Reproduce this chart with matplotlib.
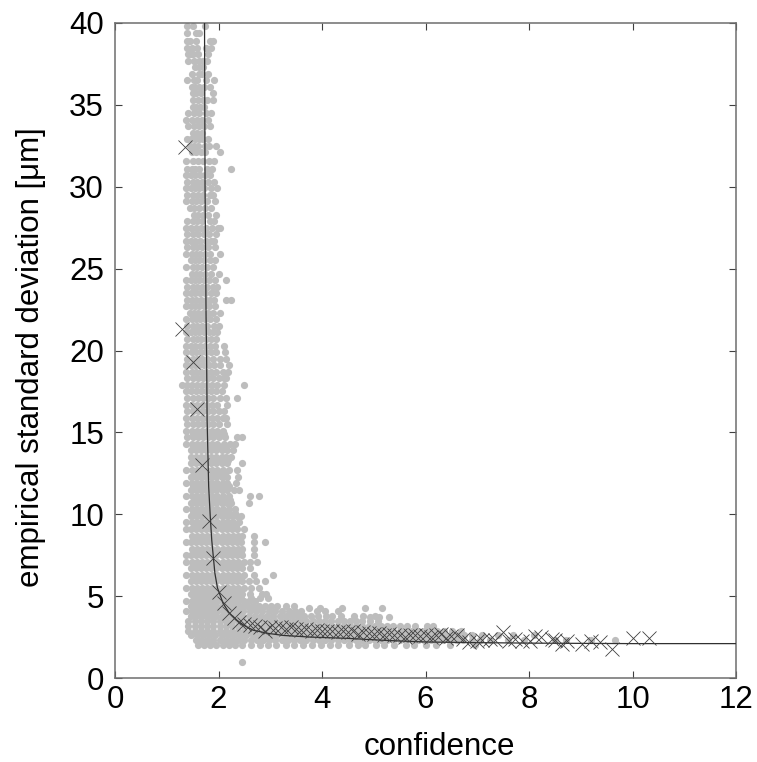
"""
Empirical standard deviation vs. confidence: gray cloud, binned crosses, fitted curve.
Saves to out.png
"""
import matplotlib
matplotlib.use("Agg")
import matplotlib.pyplot as plt
import numpy as np

# ── data ──────────────────────────────────────────────────────────────────────
# gray cloud: one y per row, several x on it
CLOUD_Y = [
    39.8, 39.4, 38.9, 38.5, 38.1, 37.7, 37.3, 36.9, 36.5, 36.1, 35.7, 35.3, 34.9,
    34.5, 34.1, 33.7, 33.3, 32.9, 32.5, 32.1, 31.6, 31.1, 30.7, 30.3, 29.9, 29.5,
    29.1, 28.7, 28.3, 27.9, 27.5, 27.1, 26.7, 26.3, 25.9, 25.5, 25.1, 24.7, 24.3,
    23.9, 23.5, 23.1, 22.7, 22.3, 21.9, 21.5, 21.1, 20.7, 20.3, 19.9, 19.5, 19.1,
    18.7, 18.3, 17.9, 17.5, 17.1, 16.7, 16.3, 15.9, 15.5, 15.1, 14.7, 14.3, 13.9,
    13.5, 13.1, 12.7, 12.3, 11.9, 11.5, 11.1, 10.7, 10.3, 9.9, 9.5, 9.1, 8.7, 8.3,
    7.9, 7.5, 7.1, 6.7, 6.3, 5.9, 5.5, 5.1, 4.7, 4.4, 4.1, 3.8, 3.5, 3.2, 2.9,
    2.6, 2.3, 2.0, 1.0,
    # in-between rows of the solid part of the cloud
    14.9, 14.1, 13.3, 12.5, 11.7, 10.9, 10.1, 9.3, 8.5, 7.7, 6.9, 6.1, 5.3, 4.9,
    # loose points above the band
    4.25, 3.75,
]
CLOUD_X = [
    [1.40, 1.50, 1.73],
    [1.40, 1.57, 1.62],
    [1.39, 1.44, 1.56, 1.84, 1.90],
    [1.40, 1.49, 1.59, 1.75, 1.86],
    [1.42, 1.46, 1.50, 1.60, 1.80],
    [1.42, 1.52, 1.63, 1.70, 1.78],
    [1.55, 1.63, 1.70],
    [1.49, 1.62, 1.68, 1.80],
    [1.39, 1.52, 1.58, 1.76, 1.92],
    [1.48, 1.55, 1.63, 1.72, 1.83],
    [1.50, 1.57, 1.66, 1.90],
    [1.51, 1.60, 1.70, 1.78, 1.90],
    [1.50, 1.56, 1.64, 1.72],
    [1.41, 1.52, 1.62, 1.76, 1.86],
    [1.38, 1.48, 1.58, 1.68, 1.80],
    [1.42, 1.53, 1.63, 1.72, 1.83],
    [1.50, 1.58, 1.68],
    [1.39, 1.46, 1.55, 1.62, 1.70, 1.80],
    [1.45, 1.52, 1.60, 1.74, 1.82, 1.96],
    [1.48, 1.56, 1.66, 1.74, 2.03],
    [1.38, 1.50, 1.60, 1.70, 1.82, 1.92],
    [1.40, 1.48, 1.54, 1.62, 1.78, 1.88, 2.24],
    [1.38, 1.46, 1.55, 1.64, 1.74, 1.84],
    [1.39, 1.50, 1.58, 1.68, 1.80, 1.92],
    [1.38, 1.46, 1.54, 1.62, 1.72, 1.86, 1.98],
    [1.40, 1.50, 1.60, 1.70, 1.83, 1.90],
    [1.38, 1.48, 1.56, 1.66, 1.78, 1.94],
    [1.44, 1.52, 1.62, 1.74, 1.86],
    [1.52, 1.60, 1.70, 1.80, 1.96],
    [1.39, 1.50, 1.58, 1.68, 1.84, 1.92],
    [1.38, 1.47, 1.56, 1.66, 1.76, 1.88, 1.99, 2.03],
    [1.40, 1.50, 1.60, 1.72, 1.82, 1.95],
    [1.38, 1.46, 1.54, 1.64, 1.75, 1.86, 1.92],
    [1.40, 1.50, 1.58, 1.68, 1.80, 1.94],
    [1.38, 1.48, 1.56, 1.64, 1.74, 1.84, 2.03],
    [1.46, 1.54, 1.62, 1.72, 1.84, 1.93],
    [1.38, 1.50, 1.58, 1.68, 1.78, 1.90],
    [1.48, 1.56, 1.64, 1.74, 1.86, 2.00],
    [1.38, 1.46, 1.54, 1.62, 1.72, 1.82, 1.94, 2.14],
    [1.40, 1.50, 1.58, 1.68, 1.78, 1.90, 1.98],
    [1.38, 1.46, 1.54, 1.64, 1.74, 1.86, 1.95],
    [1.40, 1.49, 1.57, 1.66, 1.76, 1.84, 1.92, 2.14, 2.24],
    [1.38, 1.46, 1.54, 1.62, 1.72, 1.82, 1.94],
    [1.44, 1.52, 1.60, 1.70, 1.80, 1.90, 2.02],
    [1.38, 1.48, 1.56, 1.64, 1.74, 1.84, 1.96],
    [1.40, 1.50, 1.58, 1.68, 1.78, 1.92, 2.00],
    [1.38, 1.46, 1.54, 1.62, 1.72, 1.82, 1.90, 1.98],
    [1.40, 1.50, 1.58, 1.66, 1.76, 1.86, 1.96],
    [1.38, 1.46, 1.54, 1.64, 1.74, 1.84, 1.94, 2.10],
    [1.38, 1.48, 1.56, 1.66, 1.76, 1.86, 1.96, 2.12],
    [1.40, 1.50, 1.58, 1.68, 1.78, 1.90, 2.02, 2.15],
    [1.38, 1.46, 1.54, 1.62, 1.72, 1.82, 1.92, 2.02, 2.20],
    [1.38, 1.48, 1.56, 1.66, 1.76, 1.86, 1.96, 2.08, 2.18],
    [1.40, 1.50, 1.60, 1.70, 1.80, 1.90, 2.00, 2.10, 2.15],
    [1.30, 1.40, 1.48, 1.58, 1.68, 1.78, 1.88, 1.98, 2.10, 2.50],
    [1.38, 1.46, 1.56, 1.66, 1.76, 1.86, 1.96, 2.06],
    [1.40, 1.50, 1.60, 1.70, 1.80, 1.90, 2.02, 2.14, 2.35],
    [1.38, 1.48, 1.58, 1.68, 1.78, 1.88, 1.98, 2.16],
    [1.40, 1.50, 1.60, 1.70, 1.80, 1.90, 2.00, 2.10],
    [1.38, 1.48, 1.58, 1.68, 1.78, 1.88, 1.98, 2.08, 2.15],
    [1.40, 1.50, 1.60, 1.70, 1.80, 1.90, 2.00, 2.16],
    [1.38, 1.48, 1.58, 1.68, 1.78, 1.88, 1.98, 2.08],
    [1.40, 1.50, 1.60, 1.70, 1.80, 1.90, 2.00, 2.12, 2.35, 2.45],
    [1.38, 1.48, 1.58, 1.68, 1.78, 1.88, 1.98, 2.10, 2.22, 2.32],
    [1.46, 1.56, 1.66, 1.76, 1.86, 1.96, 2.06, 2.16, 2.28],
    [1.46, 1.56, 1.66, 1.76, 1.86, 1.96, 2.06, 2.14, 2.24],
    [1.46, 1.56, 1.66, 1.76, 1.86, 1.96, 2.06, 2.16, 2.46],
    [1.38, 1.48, 1.58, 1.68, 1.78, 1.88, 1.98, 2.08, 2.20, 2.35],
    [1.46, 1.56, 1.66, 1.76, 1.86, 1.96, 2.06, 2.16, 2.38],
    [1.38, 1.48, 1.58, 1.68, 1.78, 1.88, 1.98, 2.08, 2.16, 2.33],
    [1.46, 1.56, 1.66, 1.76, 1.86, 1.96, 2.06, 2.16, 2.30, 2.40],
    [1.38, 1.48, 1.58, 1.68, 1.78, 1.88, 1.98, 2.08, 2.20, 2.60, 2.79],
    [1.46, 1.56, 1.66, 1.76, 1.86, 1.96, 2.06, 2.16, 2.24, 2.58],
    [1.38, 1.48, 1.58, 1.68, 1.78, 1.88, 1.98, 2.08, 2.20, 2.32],
    [1.46, 1.56, 1.66, 1.76, 1.86, 1.96, 2.06, 2.16, 2.26, 2.36, 2.44],
    [1.38, 1.48, 1.58, 1.68, 1.78, 1.88, 1.98, 2.08, 2.18, 2.28, 2.40],
    [1.38, 1.46, 1.56, 1.66, 1.76, 1.86, 1.96, 2.06, 2.16, 2.26, 2.36, 2.50],
    [1.48, 1.58, 1.68, 1.78, 1.88, 1.98, 2.08, 2.18, 2.28, 2.38, 2.46, 2.69],
    [1.38, 1.46, 1.56, 1.66, 1.76, 1.86, 1.96, 2.06, 2.16, 2.26, 2.36, 2.44, 2.69, 2.90],
    [1.48, 1.58, 1.68, 1.78, 1.88, 1.98, 2.08, 2.18, 2.28, 2.38, 2.46, 2.69],
    [1.38, 1.46, 1.56, 1.66, 1.76, 1.86, 1.96, 2.06, 2.16, 2.26, 2.36, 2.46, 2.69],
    [1.38, 1.48, 1.58, 1.68, 1.78, 1.88, 1.98, 2.08, 2.18, 2.28, 2.38, 2.50, 2.60, 2.74],
    [1.46, 1.56, 1.66, 1.76, 1.86, 1.96, 2.06, 2.16, 2.26, 2.36, 2.46, 2.60],
    [1.38, 1.48, 1.58, 1.68, 1.78, 1.88, 1.98, 2.08, 2.18, 2.28, 2.38, 2.50, 2.68, 3.05],
    [1.46, 1.56, 1.66, 1.76, 1.86, 1.96, 2.06, 2.16, 2.26, 2.36, 2.46, 2.58, 2.72, 2.90],
    [1.38, 1.48, 1.58, 1.68, 1.78, 1.88, 1.98, 2.08, 2.18, 2.28, 2.38, 2.50, 2.62, 2.78],
    [1.46, 1.56, 1.66, 1.76, 1.86, 1.96, 2.06, 2.16, 2.26, 2.36, 2.46, 2.60, 2.84, 2.92],
    [1.38, 1.48, 1.58, 1.68, 1.78, 1.88, 1.98, 2.08, 2.18, 2.28, 2.38, 2.50, 2.58, 2.70],
    [1.46, 1.56, 1.66, 1.76, 1.86, 1.96, 2.06, 2.16, 2.26, 2.36, 2.46, 2.56, 2.66, 2.78, 2.90, 3.02, 3.14, 3.30, 3.46],
    [1.38, 1.48, 1.58, 1.68, 1.78, 1.88, 1.98, 2.08, 2.18, 2.28, 2.38, 2.48, 2.60, 2.72, 2.84, 2.97, 3.10, 3.22, 3.36, 3.48, 3.60, 3.90, 4.05, 4.30],
    [1.46, 1.56, 1.66, 1.76, 1.86, 1.96, 2.06, 2.16, 2.26, 2.36, 2.46, 2.58, 2.70, 2.82, 2.94, 3.06, 3.18, 3.30, 3.42, 3.54, 3.66, 3.78, 3.92, 4.08, 4.20, 4.36, 4.62, 4.80, 5.02],
    [1.42, 1.54, 1.66, 1.78, 1.90, 2.02, 2.14, 2.26, 2.38, 2.50, 2.62, 2.74, 2.86, 2.98, 3.10, 3.22, 3.34, 3.46, 3.58, 3.70, 3.82, 3.94, 4.06, 4.18, 4.30, 4.42, 4.54, 4.66, 4.78, 4.92, 5.08],
    [1.42, 1.54, 1.66, 1.78, 1.90, 2.02, 2.14, 2.26, 2.38, 2.50, 2.62, 2.74, 2.86, 2.98, 3.10, 3.22, 3.34, 3.46, 3.58, 3.70, 3.82, 3.94, 4.06, 4.18, 4.30, 4.42, 4.54, 4.66, 4.78, 4.90, 5.02, 5.14, 5.26, 5.38, 5.50, 5.64, 5.80, 6.02, 6.14],
    [1.42, 1.54, 1.66, 1.78, 1.90, 2.02, 2.14, 2.26, 2.38, 2.50, 2.62, 2.74, 2.86, 2.98, 3.10, 3.22, 3.34, 3.46, 3.58, 3.70, 3.82, 3.94, 4.06, 4.18, 4.30, 4.42, 4.54, 4.66, 4.78, 4.90, 5.02, 5.14, 5.26, 5.38, 5.50, 5.62, 5.74, 5.86, 5.98, 6.10, 6.22, 6.36, 6.52, 6.68],
    [1.46, 1.58, 1.70, 1.82, 1.94, 2.06, 2.18, 2.30, 2.42, 2.54, 2.66, 2.78, 2.90, 3.02, 3.14, 3.26, 3.38, 3.50, 3.62, 3.74, 3.86, 3.98, 4.10, 4.22, 4.34, 4.46, 4.58, 4.70, 4.82, 4.94, 5.06, 5.18, 5.30, 5.42, 5.54, 5.66, 5.78, 5.90, 6.02, 6.14, 6.26, 6.38, 6.50, 6.62, 6.74, 6.90, 7.10, 7.40, 7.70, 8.10],
    [1.56, 1.66, 1.78, 1.90, 2.02, 2.14, 2.26, 2.38, 2.50, 2.62, 2.74, 2.86, 2.98, 3.10, 3.22, 3.34, 3.46, 3.58, 3.70, 3.82, 3.94, 4.06, 4.18, 4.30, 4.42, 4.54, 4.66, 4.78, 4.90, 5.02, 5.14, 5.26, 5.38, 5.50, 5.62, 5.74, 5.86, 5.98, 6.10, 6.22, 6.34, 6.46, 6.58, 6.72, 6.90, 7.05, 7.25, 7.60, 7.90, 8.50, 8.72, 9.20, 9.66],
    [1.60, 1.72, 1.84, 1.96, 2.08, 2.20, 2.32, 2.46, 2.62, 2.80, 2.96, 3.12, 3.30, 3.46, 3.64, 3.80, 3.98, 4.16, 4.30, 4.52, 4.70, 4.84, 5.04, 5.20, 5.40, 5.62, 5.78, 6.00, 6.20, 6.48, 6.96],
    [2.45],
    [1.51, 1.61, 1.71, 1.81, 1.91, 2.01, 2.11],
    [1.53, 1.63, 1.73, 1.83, 1.93, 2.03, 2.13],
    [1.51, 1.61, 1.71, 1.81, 1.91, 2.01, 2.11, 2.19],
    [1.53, 1.63, 1.73, 1.83, 1.93, 2.03, 2.13],
    [1.51, 1.61, 1.71, 1.81, 1.91, 2.01, 2.11, 2.21],
    [1.53, 1.63, 1.73, 1.83, 1.93, 2.03, 2.13, 2.23],
    [1.51, 1.61, 1.71, 1.81, 1.91, 2.01, 2.11, 2.21, 2.31],
    [1.53, 1.63, 1.73, 1.83, 1.93, 2.03, 2.13, 2.23, 2.33],
    [1.51, 1.61, 1.71, 1.81, 1.91, 2.01, 2.11, 2.21, 2.31, 2.41],
    [1.53, 1.63, 1.73, 1.83, 1.93, 2.03, 2.13, 2.23, 2.33, 2.43],
    [1.51, 1.61, 1.71, 1.81, 1.91, 2.01, 2.11, 2.21, 2.31, 2.41],
    [1.53, 1.63, 1.73, 1.83, 1.93, 2.03, 2.13, 2.23, 2.33, 2.43],
    [1.51, 1.61, 1.71, 1.81, 1.91, 2.01, 2.11, 2.21, 2.31, 2.41],
    [1.53, 1.63, 1.73, 1.83, 1.93, 2.03, 2.13, 2.23, 2.33, 2.43, 2.62, 2.80, 2.95],
    [3.74, 3.96, 4.38, 4.83, 5.15],
    [4.93, 5.10, 5.30],
]

# binned means, the crosses
BIN_CONF = [
    1.36, 1.30, 1.50, 1.59, 1.69, 1.81, 1.90, 2.00, 2.10, 2.21, 2.30, 2.40, 2.50,
    2.60, 2.70, 2.80, 2.90, 3.00, 3.10, 3.20, 3.30, 3.40, 3.50, 3.60, 3.70, 3.80,
    3.90, 4.00, 4.10, 4.20, 4.30, 4.40, 4.50, 4.60, 4.70, 4.80, 4.90, 5.00, 5.10,
    5.20, 5.30, 5.40, 5.50, 5.60, 5.70, 5.80, 5.90, 6.00, 6.10, 6.20, 6.30, 6.40,
    6.50, 6.60, 6.73, 6.85, 6.99, 7.10, 7.25, 7.35, 7.50, 7.62, 7.73, 7.86, 8.02,
    8.12, 8.23, 8.44, 8.50, 8.63, 8.73, 9.02, 9.19, 9.37, 9.61, 10.00, 10.31,
]
BIN_STD = [
    32.4, 21.3, 19.3, 16.4, 13.0, 9.6, 7.3, 5.26, 4.6, 4.0, 3.67, 3.4, 3.3, 3.25,
    3.2, 3.1, 2.9, 3.1, 3.05, 3.1, 3.0, 3.1, 3.0, 2.95, 3.0, 2.85, 2.95, 2.9,
    2.85, 2.9, 2.8, 2.85, 2.8, 2.9, 2.7, 2.8, 2.75, 2.7, 2.75, 2.6, 2.7, 2.6,
    2.65, 2.5, 2.6, 2.65, 2.55, 2.6, 2.5, 2.6, 2.7, 2.45, 2.55, 2.6, 2.4, 2.2,
    2.27, 2.35, 2.4, 2.3, 2.83, 2.25, 2.4, 2.27, 2.28, 2.58, 2.52, 2.36, 2.32,
    2.07, 2.28, 2.1, 2.28, 2.2, 1.77, 2.46, 2.42,
]

# fitted curve
FIT_CONF = [1.73, 1.74, 1.76, 1.77, 1.78, 1.81, 1.84, 1.87, 1.93, 1.98, 2.09, 2.20, 2.35,
            2.50, 2.67, 2.95, 3.25, 3.77, 4.50, 5.20, 6.00, 7.00, 8.00, 10.00, 12.00]
FIT_STD = [40.0, 30.0, 22.0, 19.8, 15.75, 11.7, 9.9, 8.4, 6.4, 5.5, 4.55, 4.0, 3.53,
           3.2, 2.92, 2.73, 2.6, 2.5, 2.42, 2.3, 2.2, 2.16, 2.13, 2.1, 2.1]

X_TICKS = [0, 2, 4, 6, 8, 10, 12]
Y_TICKS = [0, 5, 10, 15, 20, 25, 30, 35, 40]

# ── plot ──────────────────────────────────────────────────────────────────────
plt.rcParams["font.family"] = ["Liberation Sans", "DejaVu Sans"]

fig = plt.figure(figsize=(7.57, 7.62), dpi=100)
ax = fig.add_axes([115 / 757, 84 / 762, 621 / 757, 655 / 762])

cloud_y = np.concatenate([np.full(len(xs), y) for y, xs in zip(CLOUD_Y, CLOUD_X)])
cloud_x = np.concatenate(CLOUD_X)
ax.scatter(cloud_x, cloud_y, s=27, color="#bdbdbd", linewidths=0, zorder=2)

ax.plot(FIT_CONF, FIT_STD, color="#303030", linewidth=0.9, zorder=3)
ax.plot(BIN_CONF, BIN_STD, linestyle="none", marker="x", markersize=9.5,
        markeredgewidth=0.6, color="#404040", zorder=4)

ax.set_xlim(0, 12)
ax.set_ylim(0, 40)
ax.set_xticks(X_TICKS)
ax.set_yticks(Y_TICKS)
ax.tick_params(direction="in", top=True, right=True, length=5, width=0.8,
               color="#404040", labelsize=22.5)
ax.tick_params(axis="x", pad=5)
ax.tick_params(axis="y", pad=8)
for spine in ax.spines.values():
    spine.set_color("#6e6e6e")
    spine.set_linewidth(1.1)

ax.set_xlabel("confidence", fontsize=22.5)
ax.set_ylabel("empirical standard deviation [\u03bcm]", fontsize=22.5)
ax.xaxis.set_label_coords(0.523, -0.082)
ax.yaxis.set_label_coords(-0.111, 0.49)

fig.savefig("out.png", dpi=100)
